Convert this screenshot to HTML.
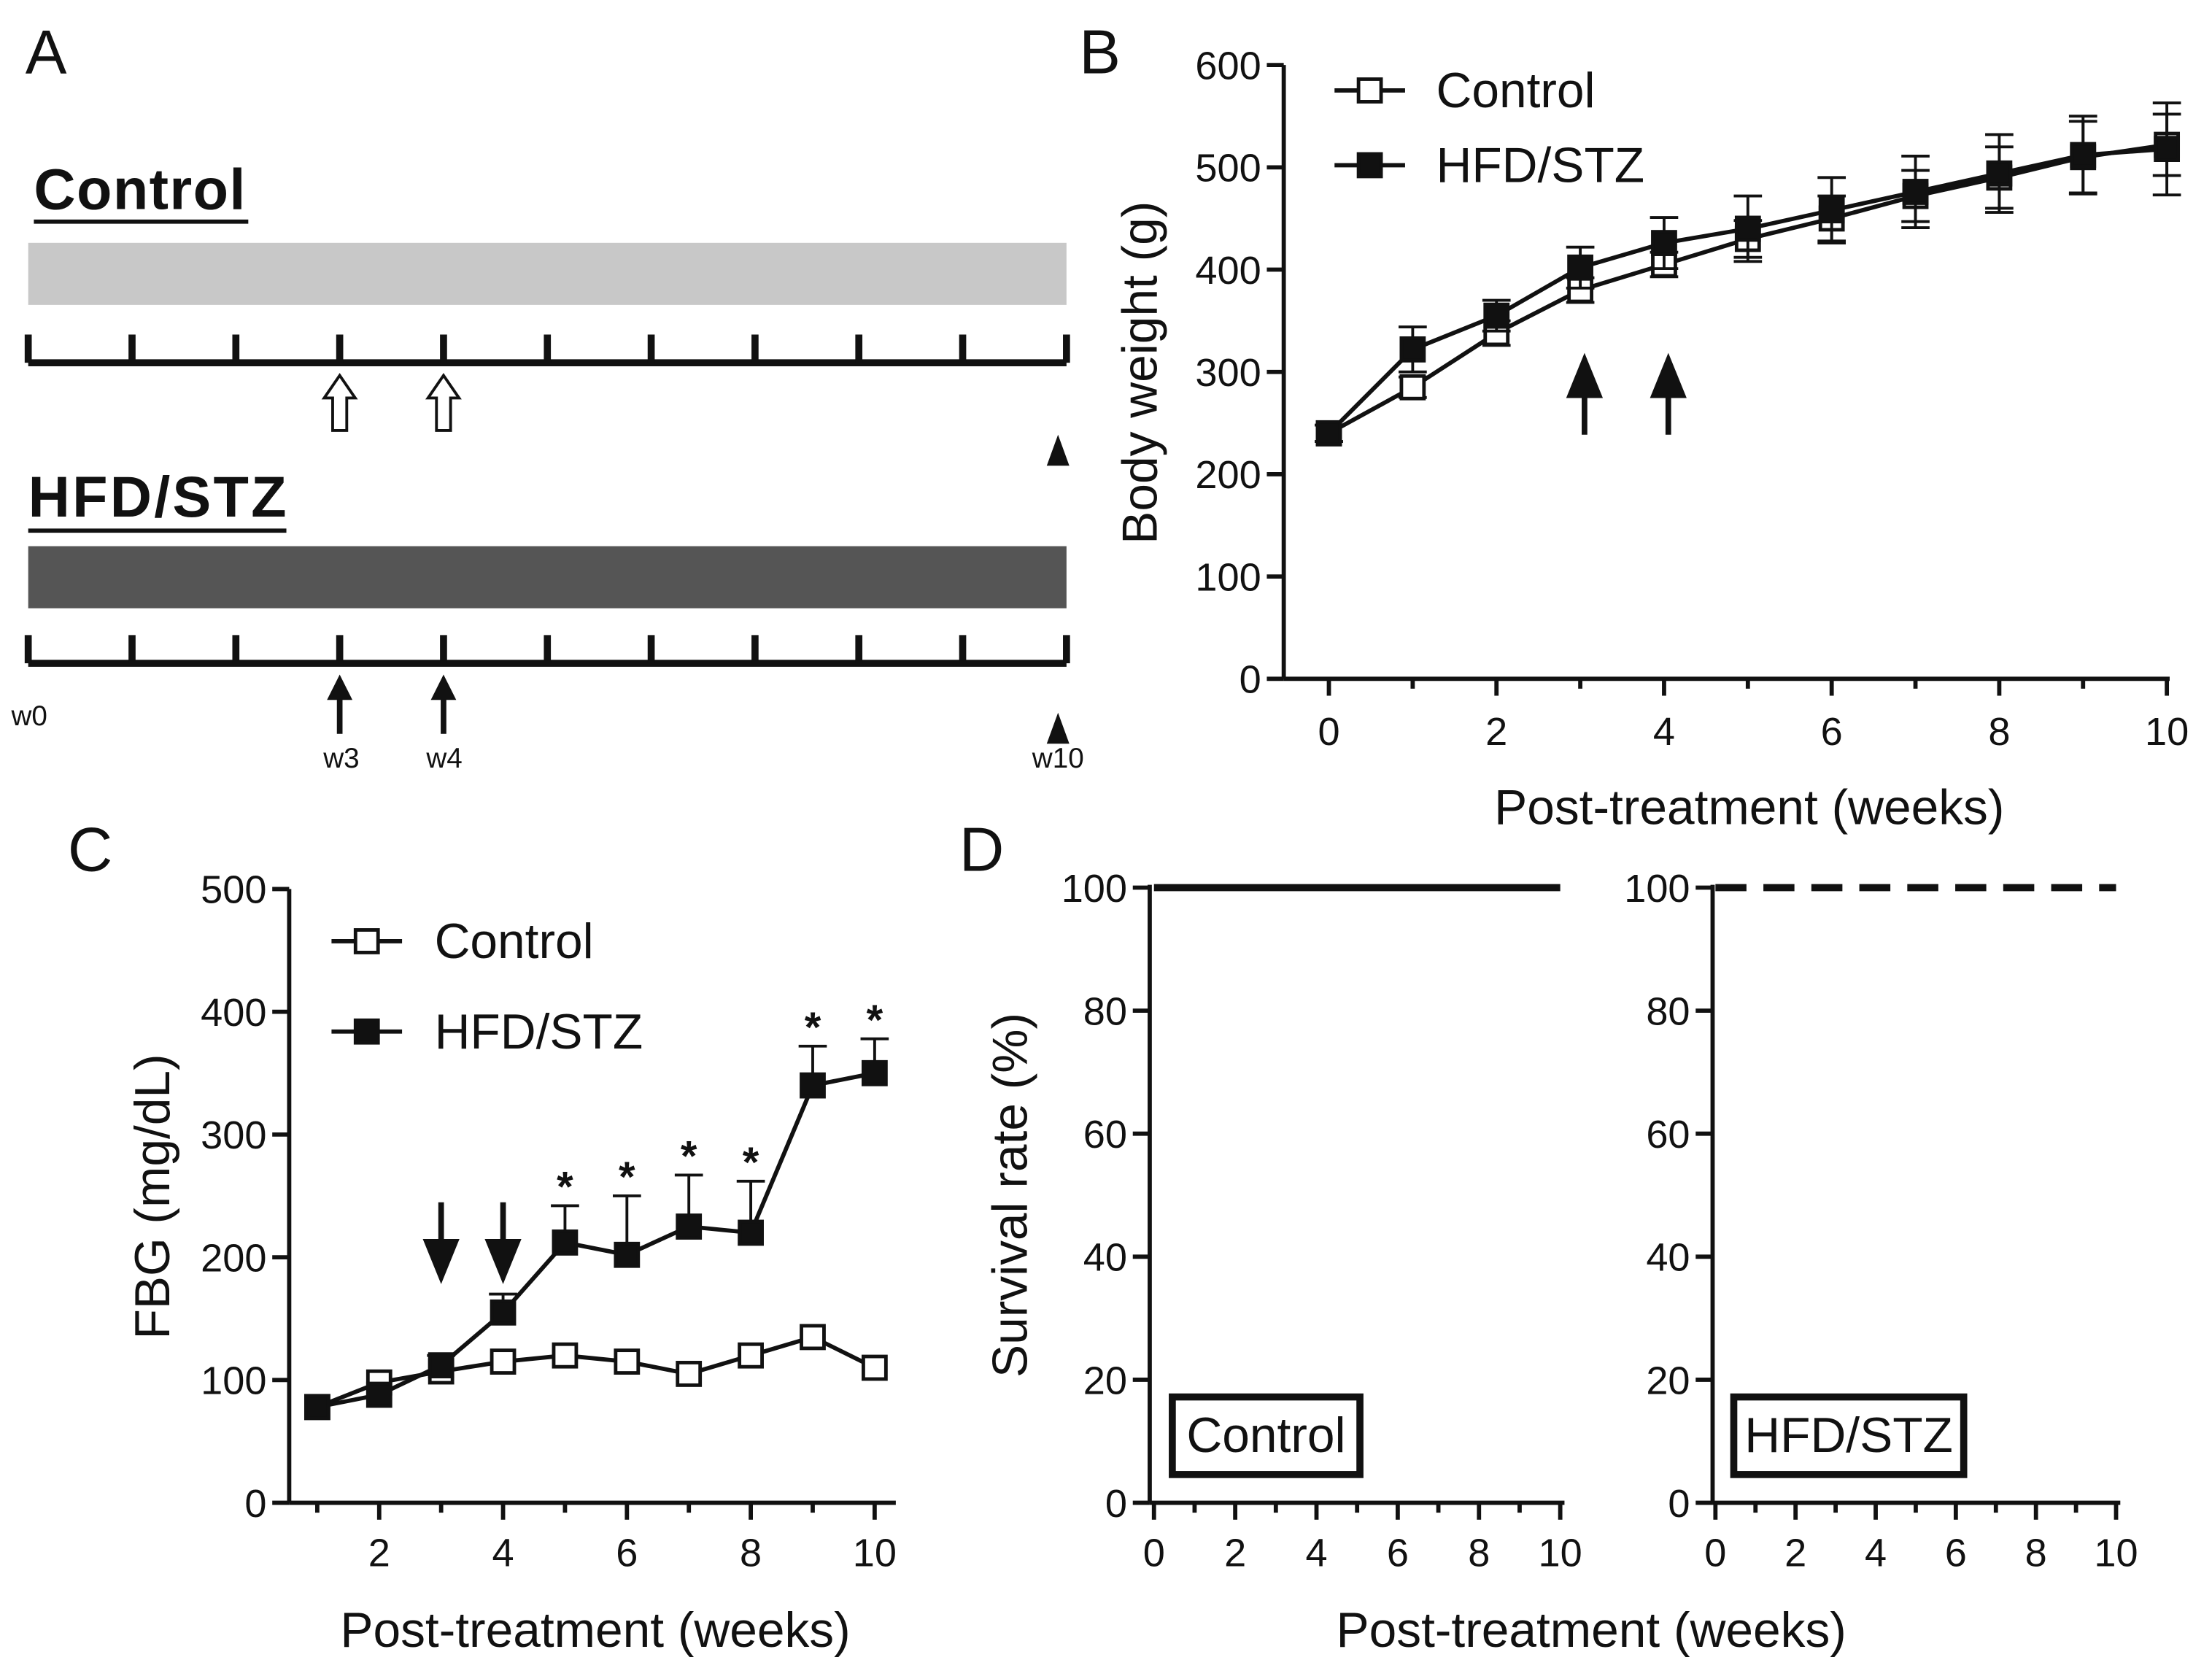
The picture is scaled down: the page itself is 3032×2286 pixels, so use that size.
<!DOCTYPE html>
<html><head><meta charset="utf-8"><style>
html,body{margin:0;padding:0;background:#fff}
svg{display:block}
text{font-family:"Liberation Sans",Arial,sans-serif;fill:#111}
</style></head><body>
<svg id="fig" width="3032" height="2286" viewBox="0 0 1568 1182" xmlns="http://www.w3.org/2000/svg">
<g id="panelA">
<text x="18" y="52" font-size="44">A</text>
<text x="24" y="148" font-size="41" font-weight="bold" textLength="150">Control</text>
<line x1="24" y1="157" x2="176" y2="157" stroke="#111" stroke-width="3"/>
<rect x="20" y="172" width="736" height="44" fill="#c8c8c8"/>
<text x="20" y="366" font-size="41" font-weight="bold" textLength="183">HFD/STZ</text>
<line x1="20" y1="376" x2="203" y2="376" stroke="#111" stroke-width="3"/>
<rect x="20" y="387" width="736" height="44" fill="#555"/>
<text x="8" y="514" font-size="20">w0</text>
<text x="242" y="544" font-size="20" text-anchor="middle">w3</text>
<text x="315" y="544" font-size="20" text-anchor="middle">w4</text>
<text x="750" y="544" font-size="20" text-anchor="middle">w10</text>
</g>
<g id="panelB"></g>
<g id="panelC"></g>
<g id="panelD"></g>
</svg>
<script>
const weeksB=[0,1,2,3,4,5,6,7,8,9,10];
const ctrlB=[240,285,338,380,405,430,450,472,490,510,522];
const ctrlBErr=[8,10,12,12,12,18,22,25,30,35,30];
const hfdB=[240,322,355,402,426,440,458,476,494,512,518];
const hfdBErr=[8,22,15,20,25,32,32,35,38,38,45];
const ticksBY=[0,100,200,300,400,500,600];
const ticksBX=[0,2,4,6,8,10];
const weeksC=[1,2,3,4,5,6,7,8,9,10];
const ctrlC=[78,98,107,115,120,115,105,120,135,110];
const hfdC=[78,88,112,155,212,202,225,220,340,350];
const hfdCErr=[0,0,8,15,30,48,42,42,32,28];
const starsC=[false,false,false,false,true,true,true,true,true,true];
const ticksCY=[0,100,200,300,400,500];
const ticksCX=[2,4,6,8,10];
const survX=[0,10];
const survCtrl=[100,100];
const survHfd=[100,100];
const ticksDY=[0,20,40,60,80,100];
const ticksDX=[0,2,4,6,8,10];

const TF=28, TT=35, LF=35;
const NS="http://www.w3.org/2000/svg";
function mk(p,t,a,txt){const e=document.createElementNS(NS,t);for(const k in a)e.setAttribute(k,a[k]);if(txt!=null)e.textContent=txt;p.appendChild(e);return e;}

// Panel A timelines
const A=document.getElementById('panelA');
[257,470].forEach((y,i)=>{
 const l=mk(A,'line',{x1:20,y1:y,x2:756,y2:y,stroke:'#111','stroke-width':5});
 
 
 for(let k=0;k<=10;k++){const x=20+k*73.6;mk(A,'line',{x1:x,y1:y-20,x2:x,y2:y,stroke:'#111','stroke-width':5});}
 [3,4].forEach(w=>{const x=20+w*73.6;
  if(i==0){const ar=mk(A,'path',{d:`M${x-5},${y+48} L${x-5},${y+25} L${x-11},${y+25} L${x},${y+9} L${x+11},${y+25} L${x+5},${y+25} L${x+5},${y+48} Z`,fill:'#fff',stroke:'#111','stroke-width':2});
   
   }
  else{mk(A,'line',{x1:x,y1:y+50,x2:x,y2:y+20,stroke:'#111','stroke-width':4});
   const ar=mk(A,'path',{d:`M${x-9},${y+26} L${x},${y+8} L${x+9},${y+26} Z`,fill:'#111'});
   
   }
 });
 const off=i==0?51:35;
 const tr=mk(A,'path',{d:`M742,${y+off+22} L750,${y+off} L758,${y+off+22} Z`,fill:'#111'});
 
 
});

function sq(g,x,y,filled,name){const r=mk(g,'rect',{x:x-8,y:y-8,width:16,height:16,fill:filled?'#111':'#fff',stroke:'#111','stroke-width':2.5});
 
 }

// Panel B
const B=document.getElementById('panelB');
{const sx=v=>942+v*59.4, sy=v=>481-v*0.725;
mk(B,'text',{x:765,y:52,'font-size':44},'B');
mk(B,'line',{x1:910,y1:sy(600),x2:910,y2:481,stroke:'#111','stroke-width':3});
mk(B,'line',{x1:910,y1:481,x2:1538,y2:481,stroke:'#111','stroke-width':3});
ticksBY.forEach(v=>{mk(B,'line',{x1:898,y1:sy(v),x2:910,y2:sy(v),stroke:'#111','stroke-width':3});
 mk(B,'text',{x:894,y:sy(v)+10,'font-size':TF,'text-anchor':'end'},v);});
for(let v=0;v<=10;v++)mk(B,'line',{x1:sx(v),y1:481,x2:sx(v),y2:v%2?488:493,stroke:'#111','stroke-width':3});
ticksBX.forEach(v=>mk(B,'text',{x:sx(v),y:528,'font-size':TF,'text-anchor':'middle'},v));
const yl=mk(B,'text',{x:0,y:0,'font-size':TT,'text-anchor':'middle',transform:'translate(820,264) rotate(-90)'},'Body weight (g)');


const xl=mk(B,'text',{x:1240,y:584,'font-size':TT,'text-anchor':'middle'},'Post-treatment (weeks)');


[[ctrlB,ctrlBErr,false],[hfdB,hfdBErr,true]].forEach(([d,e,f])=>{
 d.forEach((v,i)=>{const x=sx(weeksB[i]);mk(B,'line',{x1:x,y1:sy(v-e[i]),x2:x,y2:sy(v+e[i]),stroke:'#111','stroke-width':2});
  [v-e[i],v+e[i]].forEach(w=>mk(B,'line',{x1:x-10,y1:sy(w),x2:x+10,y2:sy(w),stroke:'#111','stroke-width':2}));});
 const pl=mk(B,'polyline',{points:d.map((v,i)=>sx(weeksB[i])+','+sy(v)).join(' '),fill:'none',stroke:'#111','stroke-width':3});
 
 
 d.forEach((v,i)=>sq(B,sx(weeksB[i]),sy(v),f,f?'hfd-point':'control-point'));
});
[3,4].forEach(w=>{const x=sx(w)+3;mk(B,'line',{x1:x,y1:308,x2:x,y2:275,stroke:'#111','stroke-width':4});
 const a=mk(B,'path',{d:`M${x-13},${282} L${x},${250} L${x+13},${282} Z`,fill:'#111'});
 
 });
mk(B,'line',{x1:946,y1:64,x2:996,y2:64,stroke:'#111','stroke-width':3});sq(B,971,64,false,'legend-marker-control');
mk(B,'text',{x:1018,y:76,'font-size':LF},'Control');
mk(B,'line',{x1:946,y1:117,x2:996,y2:117,stroke:'#111','stroke-width':3});sq(B,971,117,true,'legend-marker-hfd');
mk(B,'text',{x:1018,y:129,'font-size':LF},'HFD/STZ');}

// Panel C
const C=document.getElementById('panelC');
{const sx=v=>181+v*43.9, sy=v=>1065-v*0.87;
mk(C,'text',{x:48,y:617,'font-size':44},'C');
mk(C,'line',{x1:205,y1:sy(500),x2:205,y2:1065,stroke:'#111','stroke-width':3});
mk(C,'line',{x1:205,y1:1065,x2:635,y2:1065,stroke:'#111','stroke-width':3});
ticksCY.forEach(v=>{mk(C,'line',{x1:193,y1:sy(v),x2:205,y2:sy(v),stroke:'#111','stroke-width':3});
 mk(C,'text',{x:189,y:sy(v)+10,'font-size':TF,'text-anchor':'end'},v);});
for(let v=1;v<=10;v++)mk(C,'line',{x1:sx(v),y1:1065,x2:sx(v),y2:v%2?1072:1077,stroke:'#111','stroke-width':3});
ticksCX.forEach(v=>mk(C,'text',{x:sx(v),y:1110,'font-size':TF,'text-anchor':'middle'},v));
const yl=mk(C,'text',{x:0,y:0,'font-size':TT,'text-anchor':'middle',transform:'translate(120,848) rotate(-90)'},'FBG (mg/dL)');


const xl=mk(C,'text',{x:422,y:1167,'font-size':TT,'text-anchor':'middle'},'Post-treatment (weeks)');


hfdC.forEach((v,i)=>{if(hfdCErr[i]>0){const x=sx(weeksC[i]);mk(C,'line',{x1:x,y1:sy(v),x2:x,y2:sy(v+hfdCErr[i]),stroke:'#111','stroke-width':2});
 mk(C,'line',{x1:x-10,y1:sy(v+hfdCErr[i]),x2:x+10,y2:sy(v+hfdCErr[i]),stroke:'#111','stroke-width':2});}
 if(starsC[i]){const s=mk(C,'text',{x:sx(weeksC[i]),y:sy(v+hfdCErr[i])-3,'font-size':30,'font-weight':'bold','text-anchor':'middle'},'*');
  
  }});
[[ctrlC,false],[hfdC,true]].forEach(([d,f])=>{
 const pl=mk(C,'polyline',{points:d.map((v,i)=>sx(weeksC[i])+','+sy(v)).join(' '),fill:'none',stroke:'#111','stroke-width':3});
 
 
 d.forEach((v,i)=>sq(C,sx(weeksC[i]),sy(v),f,f?'hfd-point':'control-point'));});
[3,4].forEach(w=>{const x=sx(w);mk(C,'line',{x1:x,y1:852,x2:x,y2:885,stroke:'#111','stroke-width':4});
 const a=mk(C,'path',{d:`M${x-13},878 L${x},910 L${x+13},878 Z`,fill:'#111'});
 
 });
mk(C,'line',{x1:235,y1:667,x2:285,y2:667,stroke:'#111','stroke-width':3});sq(C,260,667,false,'legend-marker-control');
mk(C,'text',{x:308,y:679,'font-size':LF},'Control');
mk(C,'line',{x1:235,y1:731,x2:285,y2:731,stroke:'#111','stroke-width':3});sq(C,260,731,true,'legend-marker-hfd');
mk(C,'text',{x:308,y:743,'font-size':LF},'HFD/STZ');}

// Panel D
const D=document.getElementById('panelD');
mk(D,'text',{x:680,y:617,'font-size':44},'D');
function surv(ax,x0,x1,d,dashed,label,bx,bw){
 const sx=v=>x0+(x1-x0)*v/10, sy=v=>1065-v*4.36;
 mk(D,'line',{x1:ax,y1:sy(100)-2,x2:ax,y2:1065,stroke:'#111','stroke-width':3});
 mk(D,'line',{x1:ax,y1:1065,x2:x1+3,y2:1065,stroke:'#111','stroke-width':3});
 ticksDY.forEach(v=>{mk(D,'line',{x1:ax-12,y1:sy(v),x2:ax,y2:sy(v),stroke:'#111','stroke-width':3});
  mk(D,'text',{x:ax-16,y:sy(v)+10,'font-size':TF,'text-anchor':'end'},v);});
 for(let v=0;v<=10;v++)mk(D,'line',{x1:sx(v),y1:1065,x2:sx(v),y2:v%2?1072:1077,stroke:'#111','stroke-width':3});
 ticksDX.forEach(v=>mk(D,'text',{x:sx(v),y:1110,'font-size':TF,'text-anchor':'middle'},v));
 const a={x1:sx(survX[0]),y1:sy(d[0]),x2:sx(survX[1]),y2:sy(d[1]),stroke:'#111','stroke-width':5};
 if(dashed)a['stroke-dasharray']='22,12';
 const l=mk(D,'line',a);
 
 
 mk(D,'rect',{x:bx,y:990,width:bw,height:55,fill:'#fff',stroke:'#111','stroke-width':5});
 mk(D,'text',{x:bx+bw/2,y:1029,'font-size':LF,'text-anchor':'middle'},label);
}
surv(815,818,1106,survCtrl,false,'Control',831,133);
surv(1214,1216,1500,survHfd,true,'HFD/STZ',1229,163);
{const yl=mk(D,'text',{x:0,y:0,'font-size':TT,'text-anchor':'middle',transform:'translate(728,847) rotate(-90)'},'Survival rate (%)');


const xl=mk(D,'text',{x:1128,y:1167,'font-size':TT,'text-anchor':'middle'},'Post-treatment (weeks)');

}
</script>
</body></html>
